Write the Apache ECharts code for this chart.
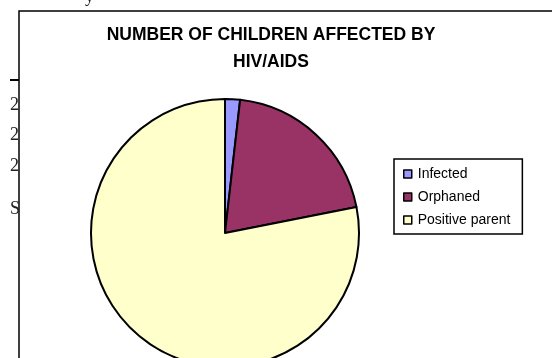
<!DOCTYPE html>
<html>
<head>
<meta charset="utf-8">
<script src="https://cdn.jsdelivr.net/npm/echarts@6/dist/echarts.min.js"></script>
<style>
  html, body { margin: 0; padding: 0; background: #fff; }
  #chart { width: 552px; height: 358px; }
</style>
</head>
<body>
<div id="chart"></div>
<script>
const categories = ["Infected", "Orphaned", "Positive parent"];
const children = [1.8, 20.1, 78.1];
// stray text from the page behind the chart
const marginMarks = ["2", "2", "2", "S"];

const sliceColors = ["#9999FF", "#993366", "#FFFFCC"];

const chart = echarts.init(document.getElementById("chart"));

const strayText = marginMarks.map((t, i) => ({
  type: "text",
  left: 10,
  top: [96, 126, 157, 200][i],
  style: { text: t, font: "18px 'Liberation Serif', serif", fill: "#222" },
}));

chart.setOption({
  animation: false,
  backgroundColor: "#fff",
  title: {
    text: "NUMBER OF CHILDREN AFFECTED BY\nHIV/AIDS",
    left: 266,
    top: 17,
    textAlign: "center",
    textStyle: {
      fontFamily: "'Liberation Sans', Arial, sans-serif",
      fontWeight: "bold",
      fontSize: 17.5,
      lineHeight: 27,
      color: "#000",
    },
  },
  legend: {
    orient: "vertical",
    left: 394,
    top: 159,
    padding: [8, 12, 7, 9],
    itemGap: 9,
    itemWidth: 8,
    itemHeight: 8,
    icon: "rect",
    borderColor: "#000",
    borderWidth: 1.5,
    itemStyle: { borderColor: "#000", borderWidth: 1.5 },
    textStyle: {
      fontFamily: "'Liberation Sans', Arial, sans-serif",
      fontSize: 14,
      color: "#000",
      padding: [0, 0, 0, 1],
    },
    data: categories,
  },
  graphic: [
    {
      type: "rect",
      shape: { x: 19, y: 11, width: 600, height: 400 },
      style: { fill: "none", stroke: "#000", lineWidth: 1.5 },
      z: -1,
    },
    {
      type: "line",
      shape: { x1: 10, y1: 80, x2: 19, y2: 80 },
      style: { stroke: "#000", lineWidth: 2 },
    },
    {
      type: "text",
      left: 85,
      top: -12,
      style: { text: "y", font: "18px 'Liberation Serif', serif", fill: "#222" },
    },
    ...strayText,
  ],
  series: [
    {
      type: "pie",
      center: [225, 233],
      radius: 134,
      startAngle: 90,
      clockwise: true,
      label: { show: false },
      labelLine: { show: false },
      emphasis: { disabled: true },
      itemStyle: { borderColor: "#000", borderWidth: 2 },
      data: categories.map((name, i) => ({
        name,
        value: children[i],
        itemStyle: { color: sliceColors[i] },
      })),
    },
  ],
});
</script>
</body>
</html>
